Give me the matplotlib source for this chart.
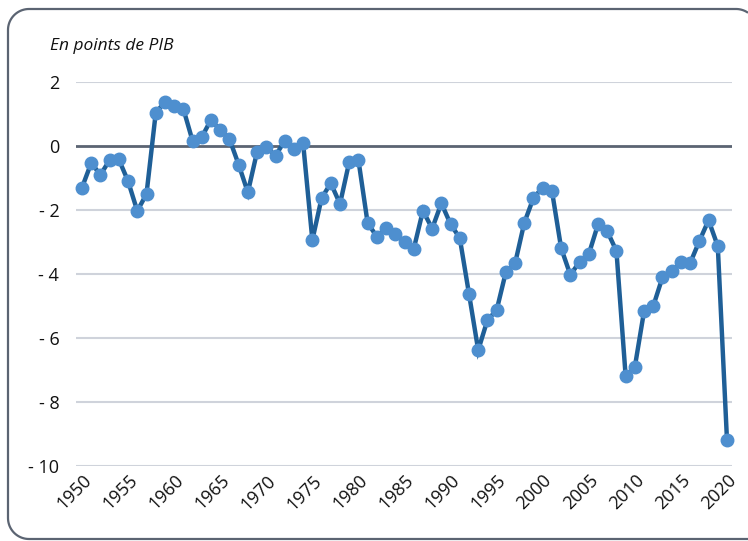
import matplotlib
matplotlib.use("Agg")
import numpy as np
import matplotlib.pyplot as plt
from matplotlib.lines import Line2D
from matplotlib.transforms import IdentityTransform

years = list(range(1950, 2021))
values = [
    -1.30, -0.53, -0.90, -0.44, -0.42, -1.10, -2.03, -1.50, 1.03, 1.38,
    1.26, 1.16, 0.16, 0.28, 0.82, 0.50, 0.22, -0.58, -1.45, -0.18,
    -0.03, -0.30, 0.16, -0.10, 0.08, -2.94, -1.63, -1.16, -1.81, -0.50,
    -0.44, -2.41, -2.83, -2.56, -2.75, -3.00, -3.22, -2.02, -2.58, -1.79,
    -2.44, -2.88, -4.62, -6.38, -5.44, -5.13, -3.94, -3.67, -2.40, -1.62,
    -1.30, -1.40, -3.19, -4.03, -3.62, -3.38, -2.45, -2.66, -3.28, -7.19,
    -6.90, -5.16, -5.00, -4.10, -3.90, -3.64, -3.66, -2.97, -2.32, -3.13,
    -9.20,
]
y_ticks = [2, 0, -2, -4, -6, -8, -10]
y_tick_labels = ["2", "0", "- 2", "- 4", "- 6", "- 8", "- 10"]
x_ticks = list(range(1950, 2021, 5))
x_tick_labels = [str(t) for t in x_ticks]
title = "En points de PIB"

plt.rcParams['font.family'] = ['Open Sans', 'DejaVu Sans']

W, H = 748, 541
fig = plt.figure(figsize=(W / 100, H / 100), dpi=100)

# decorative rounded frame (pixel coords, origin bottom-left); only the part inside the image
r = 21.0
xl, xr = 8.0, 757.0
yt, yb = H - 9.0, 2.0
# top-right arc, from image edge to top edge
cx, cy = xr - r, yt - r
a_end = np.arccos((W - cx) / r)
a = np.linspace(a_end, np.pi / 2, 20)
px = list(cx + r * np.cos(a))
py = list(cy + r * np.sin(a))
# top-left arc
cx, cy = xl + r, yt - r
a = np.linspace(np.pi / 2, np.pi, 20)
px += list(cx + r * np.cos(a))
py += list(cy + r * np.sin(a))
# bottom-left arc
cx, cy = xl + r, yb + r
a = np.linspace(np.pi, 1.5 * np.pi, 20)
px += list(cx + r * np.cos(a))
py += list(cy + r * np.sin(a))
px.append(W)
py.append(yb)
fig.add_artist(Line2D(px, py, transform=IdentityTransform(), color="#5b6472",
                      lw=1.6, solid_capstyle="butt"))

left, right = 76 / W, 732 / W
bottom, top = 1 - 466 / H, 1 - 82 / H
ax = fig.add_axes([left, bottom, right - left, top - bottom])

ax.set_xlim(1950 - 6 / 9.214, 2020 + 5 / 9.214)
ax.set_ylim(-10, 2)

for t in y_ticks:
    if t == 0:
        ax.axhline(t, color="#5b6472", lw=2.0, zorder=1)
    else:
        ax.axhline(t, color="#cfd3db", lw=1.5, zorder=1)

ax.plot(years, values, color="#1f5f97", lw=3.2, zorder=3, clip_on=False,
        solid_joinstyle="miter")
ax.plot(years, values, linestyle="none", marker="o", markersize=9,
        markerfacecolor="#4e8fcf", markeredgecolor="#4e8fcf", zorder=4, clip_on=False)

for s in ax.spines.values():
    s.set_visible(False)

ax.set_yticks(y_ticks)
ax.set_yticklabels(y_tick_labels, fontsize=13, color="#111111")
ax.tick_params(axis="y", length=0, pad=12)

ax.set_xticks(x_ticks)
ax.set_xticklabels(x_tick_labels, fontsize=13, color="#111111",
                   rotation=45, ha="right", rotation_mode="anchor")
ax.tick_params(axis="x", length=0, pad=4)

fig.text(50 / W, 1 - 46 / H, title, fontsize=12.5, style="italic",
         color="#111111", ha="left", va="center")

fig.savefig("out.png", dpi=100)
